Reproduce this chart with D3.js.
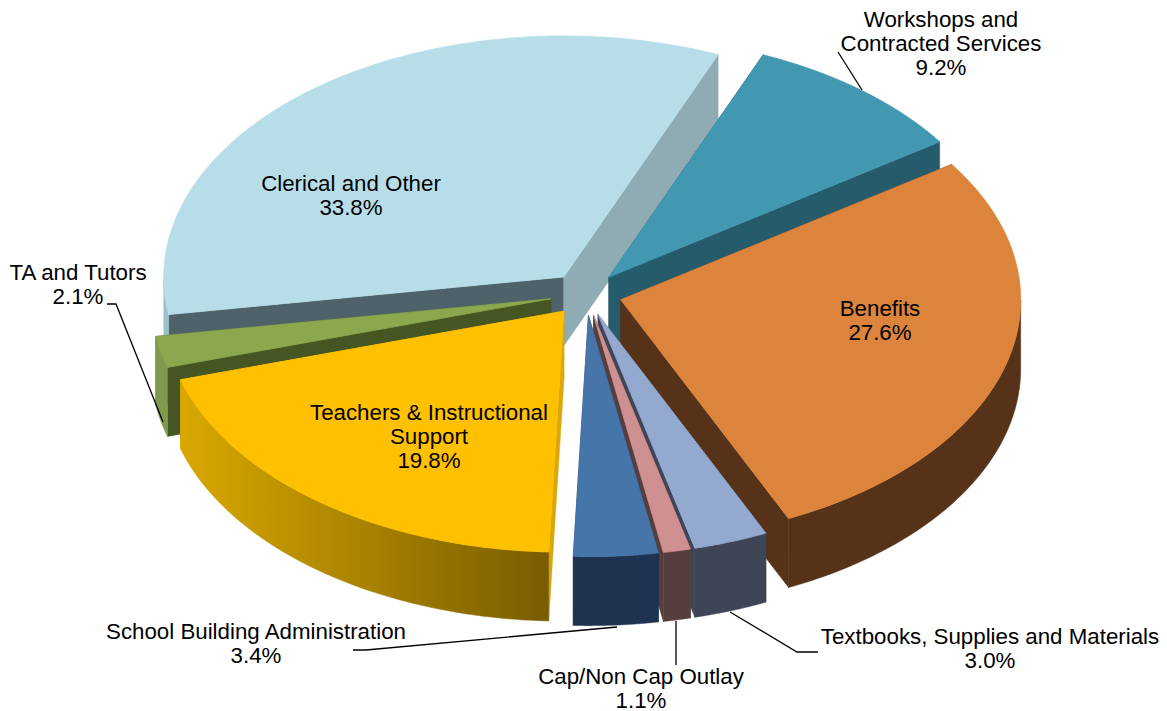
<!DOCTYPE html>
<html>
<head>
<meta charset="utf-8">
<script src="https://cdn.jsdelivr.net/npm/d3@7"></script>
<style>
  html, body { margin: 0; padding: 0; background: #fff; }
  svg { display: block; }
  text { font-family: "Liberation Sans", Arial, sans-serif; font-size: 22.3px; fill: #000; }
</style>
</head>
<body>
<svg id="chart" width="1167" height="711"></svg>
<script>
// chart values, clockwise from the top right
const categories = ['Workshops and Contracted Services', 'Benefits', 'Textbooks, Supplies and Materials',
  'Cap/Non Cap Outlay', 'School Building Administration', 'Teachers & Instructional Support',
  'TA and Tutors', 'Clerical and Other'];
const shares = [9.2, 27.6, 3.0, 1.1, 3.4, 19.8, 2.1, 33.8];
const labelLines = [
  ['Workshops and', 'Contracted Services'], ['Benefits'], ['Textbooks, Supplies and Materials'],
  ['Cap/Non Cap Outlay'], ['School Building Administration'], ['Teachers & Instructional', 'Support'],
  ['TA and Tutors'], ['Clerical and Other']
];

const topColors = ['#4298b0', '#dd843c', '#93a9cf', '#cf9092', '#4675a9', '#ffc000', '#8ba84f', '#b7dee8'];
const cutColors = ['#255b6a', '#563318', '#3d4557', '#573e3e', '#1f3350', '#d9a80c', '#465622', '#4f626a'];
const endColors = ['#255b6a', '#563318', '#3d4557', '#573e3e', '#1f3350', '#d9a80c', '#465622', '#8facb5'];
const rimColors = ['#255b6a', '#563318', '#3d4557', '#573e3e', '#1f3350', 'url(#teachersRim)', '#7f9a4c', '#9cbfc8'];

// label anchors, in the same order as the categories
const labelX = [941, 880, 990, 641, 256, 429, 78, 351];
const labelY = [27, 316, 644, 684, 639, 420, 280, 191];
const lineHeight = 24;

const leaders = [
  [[838, 52], [862, 90]],
  [[107, 304], [116, 304], [163, 422]],
  [[353, 650], [366, 650], [617, 627]],
  [[676, 621], [676, 665]],
  [[730, 612], [797, 652], [818, 652]]
];

const cx = 586, cy = 294, explode = 36, depth = 69;
const startAngle = 22.7 * Math.PI / 180;

// unit circle to screen offset, tilted pie so y is squashed
const xScale = d3.scaleLinear().domain([-1, 1]).range([-400, 400]);
const yScale = d3.scaleLinear().domain([-1, 1]).range([-241, 241]);

const svg = d3.select('#chart');
const line = d3.line();

const grad = svg.append('defs').append('linearGradient')
  .attr('id', 'teachersRim')
  .attr('gradientUnits', 'userSpaceOnUse')
  .attr('x1', 180).attr('x2', 550).attr('y1', 0).attr('y2', 0);
grad.append('stop').attr('offset', 0).attr('stop-color', '#d9a800');
grad.append('stop').attr('offset', 1).attr('stop-color', '#785c00');

const pie = d3.pie().sort(null).startAngle(startAngle).endAngle(startAngle + 2 * Math.PI);
const arcs = pie(shares);

function sliceGeometry(arc) {
  const mid = (arc.startAngle + arc.endAngle) / 2;
  const ox = cx + xScale(Math.sin(mid)) * explode / 400;
  const oy = cy + yScale(-Math.cos(mid)) * explode / 400;
  const at = a => [ox + xScale(Math.sin(a)), oy + yScale(-Math.cos(a))];
  const sweep = (from, to) => d3.range(0, 61).map(i => at(from + (to - from) * i / 60));
  return { ox, oy, at, sweep };
}
const down = p => [p[0], p[1] + depth];

// back to front
const drawOrder = [7, 0, 6, 1, 5, 2, 3, 4];

drawOrder.forEach(i => {
  const arc = arcs[i];
  const g = svg.append('g').attr('class', 'slice');
  const { ox, oy, at, sweep } = sliceGeometry(arc);
  const apex = [ox, oy];
  const a = at(arc.startAngle), b = at(arc.endAngle);

  // the two cut faces
  g.append('path').attr('fill', cutColors[i]).attr('stroke', cutColors[i]).attr('stroke-width', 0.5)
    .attr('d', line([apex, a, down(a), down(apex)]) + 'Z');
  g.append('path').attr('fill', endColors[i]).attr('stroke', endColors[i]).attr('stroke-width', 0.5)
    .attr('d', line([apex, b, down(b), down(apex)]) + 'Z');

  // outer wall, only the part facing the viewer
  const lo = Math.max(arc.startAngle, Math.PI / 2);
  const hi = Math.min(arc.endAngle, 3 * Math.PI / 2);
  if (hi > lo) {
    const edge = sweep(lo, hi);
    g.append('path').attr('fill', rimColors[i]).attr('stroke', rimColors[i]).attr('stroke-width', 0.5)
      .attr('d', line(edge.concat(edge.map(down).reverse())) + 'Z');
  }

  // top surface
  g.append('path').attr('fill', topColors[i]).attr('stroke', topColors[i]).attr('stroke-width', 0.8)
    .attr('d', line([apex].concat(sweep(arc.startAngle, arc.endAngle))) + 'Z');
});

// leader lines
svg.selectAll('path.leader')
  .data(leaders)
  .enter()
  .append('path')
  .attr('class', 'leader')
  .attr('fill', 'none')
  .attr('stroke', '#000')
  .attr('stroke-width', 1.3)
  .attr('d', d => line(d));

// labels
categories.forEach((name, i) => {
  const lines = labelLines[i].concat([d3.format('.1f')(shares[i]) + '%']);
  const t = svg.append('text')
    .attr('text-anchor', 'middle')
    .attr('x', labelX[i])
    .attr('y', labelY[i]);
  lines.forEach((s, j) => {
    t.append('tspan')
      .attr('x', labelX[i])
      .attr('y', labelY[i] + j * lineHeight)
      .text(s);
  });
});
</script>
</body>
</html>
